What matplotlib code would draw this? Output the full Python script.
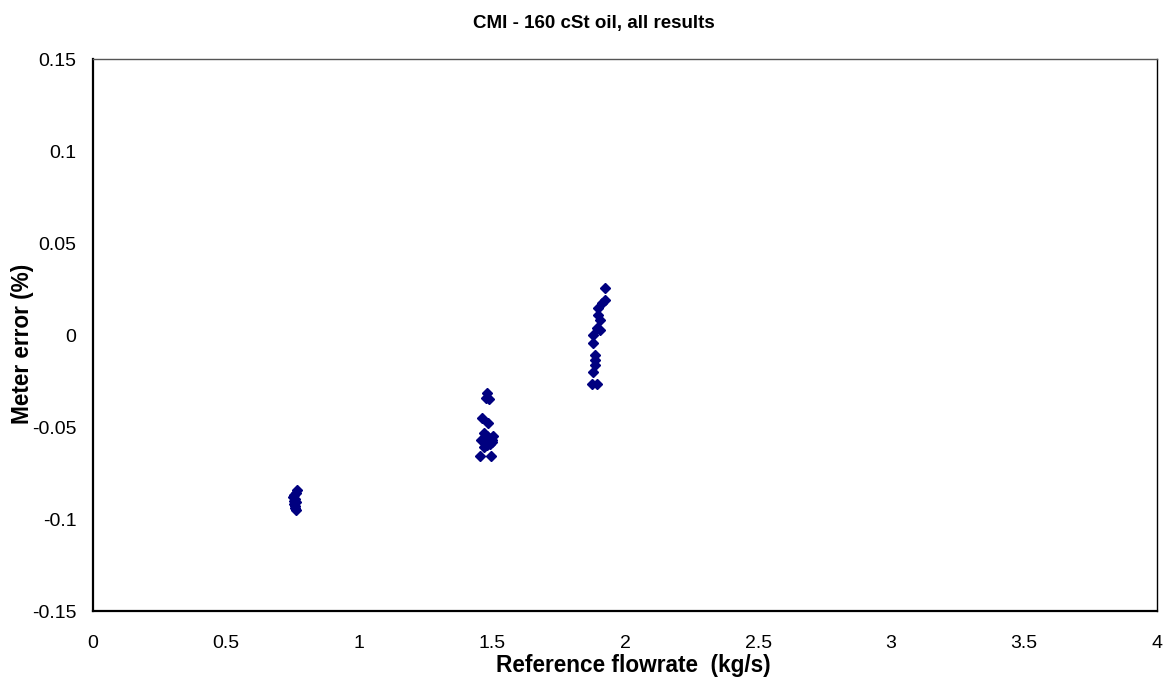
import matplotlib.pyplot as plt

# === DATA ===
flow_075 = [0.765, 0.762, 0.755, 0.752, 0.758, 0.762, 0.755, 0.760, 0.758, 0.762, 0.757]
err_075 = [-0.084, -0.086, -0.087, -0.088, -0.089, -0.091, -0.092, -0.093, -0.094, -0.095, -0.090]

flow_150 = [1.482, 1.476, 1.488, 1.461, 1.486, 1.470, 1.480, 1.490, 1.500, 1.460, 1.472,
            1.492, 1.503, 1.482, 1.468, 1.498, 1.455, 1.495]
err_150 = [-0.0315, -0.034, -0.035, -0.0453, -0.048, -0.053, -0.055, -0.056, -0.057, -0.057,
           -0.058, -0.059, -0.055, -0.060, -0.061, -0.058, -0.0658, -0.066]

flow_190 = [1.925, 1.925, 1.912, 1.900, 1.900, 1.906, 1.894, 1.906, 1.881, 1.881, 1.887,
            1.887, 1.887, 1.881, 1.875, 1.894]
err_190 = [0.0254, 0.019, 0.0172, 0.0145, 0.0109, 0.0082, 0.0036, 0.0027, 0.0, -0.0045,
           -0.0109, -0.0136, -0.0163, -0.020, -0.0268, -0.0268]

x_ticks = [0, 0.5, 1, 1.5, 2, 2.5, 3, 3.5, 4]
x_labels = ["0", "0.5", "1", "1.5", "2", "2.5", "3", "3.5", "4"]
y_ticks = [-0.15, -0.1, -0.05, 0, 0.05, 0.1, 0.15]
y_labels = ["-0.15", "-0.1", "-0.05", "0", "0.05", "0.1", "0.15"]

plt.rcParams["font.family"] = ["Liberation Sans", "DejaVu Sans"]

# === Plot ===
fig = plt.figure(figsize=(11.65, 6.87), dpi=100)
ax = fig.add_axes([0.0798, 0.1106, 0.9135, 0.8034])

for xs, ys in [(flow_075, err_075), (flow_150, err_150), (flow_190, err_190)]:
    ax.plot(xs, ys, linestyle="none", marker="D", markersize=5,
            color="#000080", markeredgecolor="#000080")

ax.set_xlim(0, 4)
ax.set_ylim(-0.15, 0.15)
ax.set_xticks(x_ticks)
ax.set_xticklabels(x_labels, fontsize=14)
ax.set_yticks(y_ticks)
ax.set_yticklabels(y_labels, fontsize=14)
ax.tick_params(axis="x", length=0, pad=17.5)
ax.tick_params(axis="y", length=0, pad=12)

# frame: black left/bottom, thinner top/right
ax.spines["left"].set_linewidth(1.6)
ax.spines["bottom"].set_linewidth(1.6)
ax.spines["top"].set_linewidth(1.0)
ax.spines["right"].set_linewidth(1.0)
ax.spines["top"].set_color("#555555")
ax.spines["right"].set_color("#000000")

# titles placed where the reference has them
fig.text(0.51, 0.9665, "CMI - 160 cSt oil, all results", fontsize=13.5,
         fontweight="bold", ha="center", va="center")
fig.text(0.5433, 0.032, "Reference flowrate  (kg/s)", fontsize=16.3,
         fontweight="bold", ha="center", va="center")
fig.text(0.0189, 0.4993, "Meter error (%)", fontsize=16.3, fontweight="bold",
         rotation=90, ha="center", va="center")

fig.savefig("out.png", dpi=100)
